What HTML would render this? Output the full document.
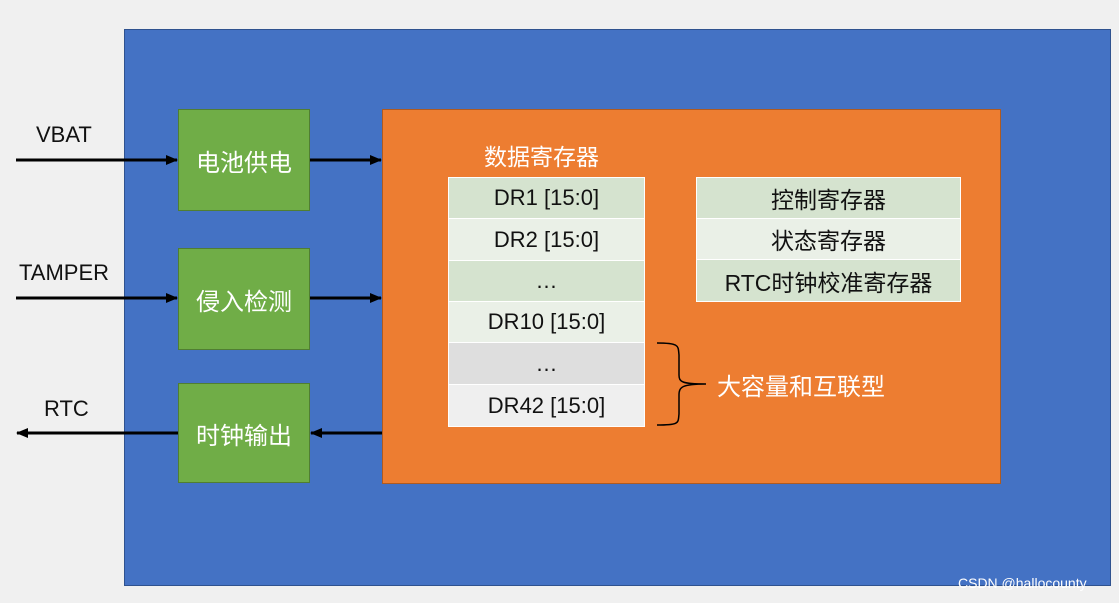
<!DOCTYPE html><html><head><meta charset="utf-8"><style>
body{margin:0;width:1119px;height:603px;background:#f0f0f0;position:relative;overflow:hidden;font-family:"Liberation Sans","Noto Sans CJK SC",sans-serif}
div{position:absolute;box-sizing:border-box}
.g{background:#70ad47;border:1px solid #507e32;color:#fff;font-size:24px;display:flex;align-items:center;justify-content:center;left:178px;width:132px}
.r{display:flex;align-items:center;justify-content:center;font-size:22px;color:#111;border-bottom:1px solid #fff}
.l{font-size:22px;color:#111}
</style></head><body>
<div style="left:124px;top:29px;width:987px;height:557px;background:#4472c4;border:1px solid #2f528f"></div>
<div style="left:382px;top:109px;width:619px;height:375px;background:#ed7d31;border:1px solid #ae5a21"></div>
<div class="g" style="top:109px;height:102px">电池供电</div>
<div class="g" style="top:248px;height:102px">侵入检测</div>
<div class="g" style="top:383px;height:100px">时钟输出</div>
<div class="l" style="left:36px;top:122px">VBAT</div>
<div class="l" style="left:19px;top:260px">TAMPER</div>
<div class="l" style="left:44px;top:396px">RTC</div>
<div style="left:484px;top:138px;font-size:23px;color:#fff">数据寄存器</div>
<div style="left:448px;top:177px;width:197px;background:#fff;padding:1px">
<div class="r" style="position:relative;height:41px;background:#d5e3cf">DR1 [15:0]</div>
<div class="r" style="position:relative;height:42px;background:#eaf0e7">DR2 [15:0]</div>
<div class="r" style="position:relative;height:41px;background:#d5e3cf">…</div>
<div class="r" style="position:relative;height:41px;background:#eaf0e7">DR10 [15:0]</div>
<div class="r" style="position:relative;height:42px;background:#dedede">…</div>
<div class="r" style="position:relative;height:41px;background:#efefef;border:0">DR42 [15:0]</div>
</div>
<div style="left:696px;top:177px;width:265px;background:#fff;padding:1px">
<div class="r" style="position:relative;height:41px;background:#d5e3cf;font-size:23px">控制寄存器</div>
<div class="r" style="position:relative;height:41px;background:#eaf0e7;font-size:23px">状态寄存器</div>
<div class="r" style="position:relative;height:41px;background:#d5e3cf;border:0;font-size:23px">RTC时钟校准寄存器</div>
</div>
<div style="left:717px;top:367px;font-size:24px;color:#fff">大容量和互联型</div>
<svg width="1119" height="603" style="position:absolute;left:0;top:0">
<defs><marker id="a" markerWidth="12" markerHeight="10" refX="11" refY="5" orient="auto" markerUnits="userSpaceOnUse"><path d="M0,0L12,5L0,10z" fill="#000"/></marker></defs>
<g stroke="#000" stroke-width="3" marker-end="url(#a)">
<line x1="16" y1="160" x2="177" y2="160"/><line x1="310" y1="160" x2="381" y2="160"/>
<line x1="16" y1="298" x2="177" y2="298"/><line x1="310" y1="298" x2="381" y2="298"/>
<line x1="178" y1="433" x2="17" y2="433"/><line x1="382" y1="433" x2="311" y2="433"/>
</g>
<path d="M657,343 C680,343 678,346 679,355 L679,375 C679,382 682,384 706,384 C682,384 679,387 679,395 L679,414 C678,423 680,425 657,425" fill="none" stroke="#000" stroke-width="1.5"/>
</svg>
<div style="left:958px;top:575px;font-size:14px;color:#fff">CSDN @hallocounty</div>
</body></html>
